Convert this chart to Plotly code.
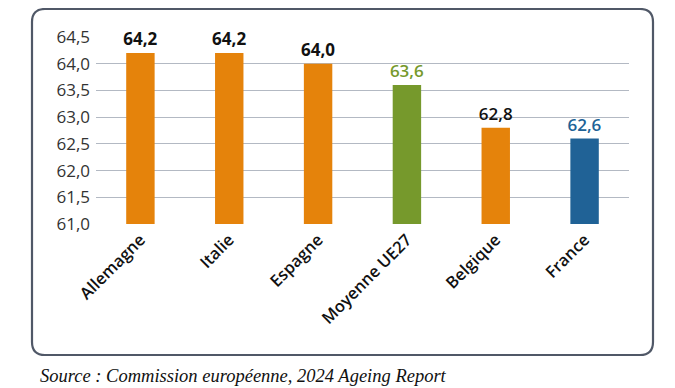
import plotly.graph_objects as go

categories = ["Allemagne", "Italie", "Espagne", "Moyenne UE27", "Belgique", "France"]
values = [64.2, 64.2, 64.0, 63.6, 62.8, 62.6]
bar_colors = ["#E5830B", "#E5830B", "#E5830B", "#76992C", "#E5830B", "#206296"]
label_colors = ["#111111", "#111111", "#111111", "#76992C", "#111111", "#206296"]
label_weights = [700, 700, 700, 600, 600, 600]
y_ticks = [61.0, 61.5, 62.0, 62.5, 63.0, 63.5, 64.0, 64.5]
source_text = "Source : Commission européenne, 2024 Ageing Report"

# page body has an 8px margin: figure is drawn from (8, 8)
OFF = 8
W, H = 675 - OFF, 388 - OFF
L, R, T, B = 96 - OFF, 46, 37 - OFF, 164

labels = [f"{v:.1f}".replace(".", ",") for v in values]

fig = go.Figure(go.Bar(
    x=categories, y=values, marker_color=bar_colors, marker_line_width=0,
    text=labels, textposition="outside", cliponaxis=False, constraintext="none",
    textfont=dict(color=label_colors, size=17, family="Open Sans", weight=label_weights),
    width=0.32,
))

fig.update_layout(
    width=W, height=H, margin=dict(l=L, r=R, t=T, b=B, autoexpand=False),
    paper_bgcolor="white", plot_bgcolor="white", showlegend=False,
    font=dict(family="Open Sans", color="#333333"),
)
fig.update_yaxes(range=[61.0, 64.5], tickvals=y_ticks, automargin=False,
                 ticktext=[f"{t:.1f}".replace(".", ",") for t in y_ticks],
                 showgrid=True, gridcolor="#b3b9c3", gridwidth=1.3,
                 zeroline=False, showline=False, ticks="",
                 tickfont=dict(size=17, color="#333333"), ticklabelstandoff=5)
fig.update_xaxes(tickangle=-45, showgrid=False, showline=False, ticks="",
                 automargin=False,
                 tickfont=dict(size=16.5, color="#111111", family="Open Sans", weight=600),
                 ticklabelstandoff=2)

# rounded frame in page pixel coordinates converted to paper coords
pw, ph = W - L - R, H - T - B
def px(x):
    return (x - OFF - L) / pw
def py(y):
    return 1 - (y - OFF - T) / ph
x0, x1, y0, y1, r = 32, 653, 9, 355, 13
path = (f"M {px(x0 + r)},{py(y0)} L {px(x1 - r)},{py(y0)} "
        f"Q {px(x1)},{py(y0)} {px(x1)},{py(y0 + r)} L {px(x1)},{py(y1 - r)} "
        f"Q {px(x1)},{py(y1)} {px(x1 - r)},{py(y1)} L {px(x0 + r)},{py(y1)} "
        f"Q {px(x0)},{py(y1)} {px(x0)},{py(y1 - r)} L {px(x0)},{py(y0 + r)} "
        f"Q {px(x0)},{py(y0)} {px(x0 + r)},{py(y0)} Z")
fig.add_shape(type="path", path=path, xref="paper", yref="paper",
              line=dict(color="#505867", width=2.2), layer="below")

fig.add_annotation(text=f"<i>{source_text}</i>", xref="paper", yref="paper",
                   x=px(38), y=py(376), xanchor="left", yanchor="middle",
                   showarrow=False,
                   font=dict(family="Liberation Serif", size=18.5, color="#111111"))

fig.write_html("out.html")
